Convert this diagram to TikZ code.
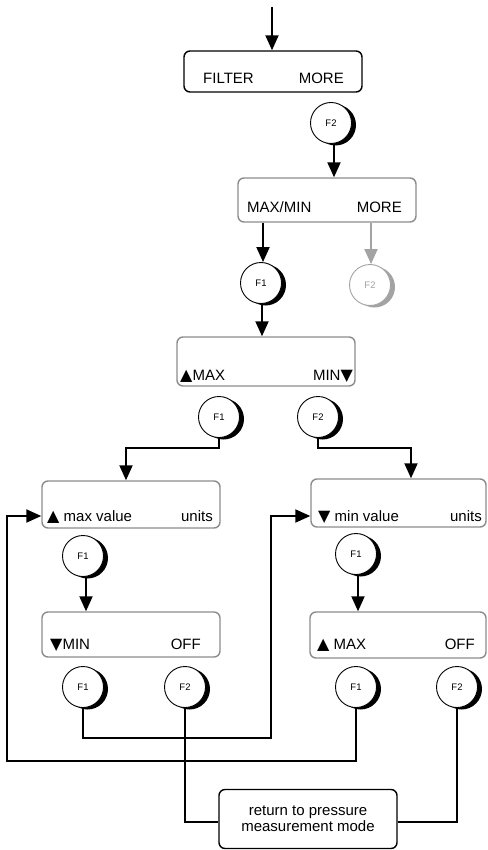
\documentclass[tikz,border=0pt]{standalone}
\usepackage{fontspec}
\setmainfont{Liberation Sans}
\newfontfamily\symf{DejaVu Sans}
\usetikzlibrary{arrows.meta,shadows}
\definecolor{panelgray}{HTML}{8C8C8C}
\definecolor{ghost}{HTML}{A3A3A3}
\newcommand{\up}{{\symf\fontsize{16}{16}\selectfont ▲}}
\newcommand{\dn}{{\symf\fontsize{16}{16}\selectfont ▼}}
\begin{document}
\begin{tikzpicture}[x=1pt,y=-1pt,
  panel/.style={draw=panelgray, line width=1.4pt, rounded corners=6pt, minimum width=178pt, inner sep=0pt},
  lbl/.style={font=\fontsize{15}{16}\selectfont, inner sep=0pt},
  btn/.style={circle, draw, line width=0.9pt, fill=white, minimum size=41pt, inner sep=0pt,
    font=\fontsize{9.5}{10}\selectfont,
    drop shadow={shadow xshift=4.5pt, shadow yshift=-2pt, fill=black, opacity=1}},
  ghostbtn/.style={circle, draw=ghost, text=ghost, line width=0.9pt, fill=white, minimum size=41pt, inner sep=0pt,
    font=\fontsize{9.5}{10}\selectfont,
    drop shadow={shadow xshift=4.5pt, shadow yshift=-2pt, fill=ghost, opacity=1}},
  arr/.style={line width=1.9pt, -{Triangle[length=15pt,width=13pt]}},
  wire/.style={line width=1.9pt}]
\useasboundingbox (0,0) rectangle (487,850);

% panels
\node[panel, draw=black, minimum height=41pt] (box1) at (273,71.5) {};
\node[panel, minimum height=44pt] (box2) at (327,200) {};
\node[panel, minimum height=49pt] (box3) at (266,361.5) {};
\node[panel, minimum height=47pt] (box4) at (131,504.5) {};
\node[panel, minimum width=175pt, minimum height=48pt] (box5) at (398.5,503) {};
\node[panel, minimum height=45pt] (box6) at (131,634.5) {};
\node[panel, minimum width=176pt, minimum height=46pt] (box7) at (398,635) {};
\node[panel, draw=black, minimum height=59pt, align=center, font=\fontsize{15}{16}\selectfont] (ret) at (308,819) {return to pressure\\measurement mode};

% panel labels
\node[lbl, anchor=base west] (t1a) at (203,84) {FILTER};
\node[lbl, anchor=base east] (t1b) at (344,84) {MORE};
\node[lbl, anchor=base west] (t2a) at (247,212) {MAX/MIN};
\node[lbl, anchor=base east] (t2b) at (402,212) {MORE};
\node[lbl, anchor=base west] (t3a) at (180,380) {\up MAX};
\node[lbl, anchor=base east] (t3b) at (353,380) {MIN\dn};
\node[lbl, anchor=base west] (t4a) at (47,521) {\up\ max value};
\node[lbl, anchor=base east] (t4b) at (213,521) {units};
\node[lbl, anchor=base west] (t5a) at (318,521) {\dn\ min value};
\node[lbl, anchor=base east] (t5b) at (482,521) {units};
\node[lbl, anchor=base west] (t6a) at (50,649) {\dn MIN};
\node[lbl, anchor=base east] (t6b) at (201,649) {OFF};
\node[lbl, anchor=base west] (t7a) at (317,649) {\up\ MAX};
\node[lbl, anchor=base east] (t7b) at (475,649) {OFF};

% buttons
\node[btn] (b1) at (331,123) {F2};
\node[btn] (b2) at (261,283) {F1};
\node[ghostbtn] (b3) at (370,285) {F2};
\node[btn] (b4) at (219,417) {F1};
\node[btn] (b5) at (318,417) {F2};
\node[btn] (b6) at (83,556) {F1};
\node[btn] (b7) at (356,554) {F1};
\node[btn] (b8) at (83,687) {F1};
\node[btn] (b9) at (185,687) {F2};
\node[btn] (b10) at (356,687) {F1};
\node[btn] (b11) at (457,687) {F2};

% helper coordinates
\coordinate (top) at (272,7);
\coordinate (j1) at (219,448);
\coordinate (j2) at (318,448);
\coordinate (c1) at (271,738);
\coordinate (c2) at (7,761);
\coordinate (e5) at (0,516);

% connectors
\draw[arr] (top) -- (top |- box1.north);
\draw[arr] ([xshift=3pt]b1.south) -- ([xshift=3pt]b1.south |- box2.north);
\draw[arr] ([xshift=2pt]b2.north |- box2.south) -- ([xshift=2pt]b2.north);
\draw[arr, draw=ghost, -{Triangle[length=15pt,width=13pt,fill=ghost]}] ([xshift=1pt]b3.north |- box2.south) -- ([xshift=1pt]b3.north);
\draw[arr] ([xshift=1pt]b2.south) -- ([xshift=1pt]b2.south |- box3.north);
\draw[arr] (b4.south) -- (j1) -| ([xshift=-5pt]box4.north);
\draw[arr] (b5.south) -- (j2) -| ([xshift=12.5pt]box5.north);
\draw[arr] ([xshift=3pt]b6.south) -- ([xshift=3pt]b6.south |- box6.north);
\draw[arr] ([xshift=2pt]b7.south) -- ([xshift=2pt]b7.south |- box7.north);
\draw[arr] (b8.south) |- (c1) |- (box5.west |- e5);
\draw[arr] (b10.south) |- (c2) |- (box4.west |- e5);
\draw[wire] (b9.south) |- ([yshift=-3pt]ret.west);
\draw[wire] (b11.south) |- ([yshift=-3pt]ret.east);
\end{tikzpicture}
\end{document}
